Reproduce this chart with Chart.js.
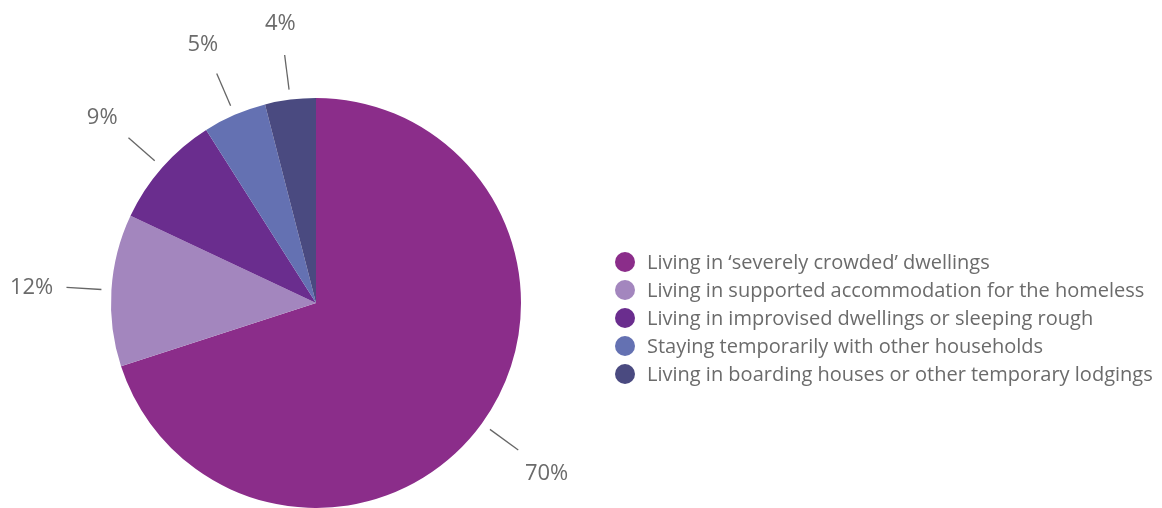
<!DOCTYPE html>
<html lang="en">
<head>
<meta charset="UTF-8">
<title>Homelessness pie</title>
<script src="https://cdn.jsdelivr.net/npm/chart.js@4.4.0"></script>
<style>
  html, body { margin: 0; padding: 0; background: #fff; }
  #wrap { width: 1162px; height: 508px; position: relative; }
</style>
</head>
<body>
<div id="wrap"><canvas id="chart"></canvas></div>
<script>
const categories = [
  "Living in \u2018severely crowded\u2019 dwellings",
  "Living in supported accommodation for the homeless",
  "Living in improvised dwellings or sleeping rough",
  "Staying temporarily with other households",
  "Living in boarding houses or other temporary lodgings"
];
const shares = [70, 12, 9, 5, 4];
const sliceColors = ["#8b2d8a", "#a386be", "#6a2d8e", "#6471b2", "#4a4a80"];

const FONT = "'Open Sans', sans-serif";

// leader lines + % labels outside each slice
const outsideLabels = {
  id: 'outsideLabels',
  afterDatasetsDraw(chart) {
    const ctx = chart.ctx;
    const meta = chart.getDatasetMeta(0);
    ctx.save();
    meta.data.forEach((arc, i) => {
      const mid = (arc.startAngle + arc.endAngle) / 2;
      const r = arc.outerRadius;
      const cx = Math.cos(mid), cy = Math.sin(mid);
      ctx.strokeStyle = '#666';
      ctx.lineWidth = 1.3;
      ctx.beginPath();
      ctx.moveTo(arc.x + cx * (r + 10), arc.y + cy * (r + 10));
      ctx.lineTo(arc.x + cx * (r + 45), arc.y + cy * (r + 45));
      ctx.stroke();
      ctx.fillStyle = '#6b6b6b';
      ctx.font = '22px ' + FONT;
      ctx.textAlign = 'center';
      ctx.textBaseline = 'middle';
      ctx.fillText(shares[i] + '%', arc.x + cx * (r + 80), arc.y + cy * (r + 80) + 3);
    });
    ctx.restore();
  }
};

// legend on the right, circles + text
const sideLegend = {
  id: 'sideLegend',
  afterDraw(chart) {
    const ctx = chart.ctx;
    const labels = chart.data.labels;
    const colors = chart.data.datasets[0].backgroundColor;
    ctx.save();
    ctx.font = '20px ' + FONT;
    ctx.textBaseline = 'middle';
    ctx.textAlign = 'left';
    labels.forEach((lab, i) => {
      const y = 262 + i * 28;
      ctx.fillStyle = colors[i];
      ctx.beginPath();
      ctx.arc(625, y, 10, 0, Math.PI * 2);
      ctx.fill();
      ctx.fillStyle = '#6b6b6b';
      ctx.fillText(lab, 647, y + 1);
    });
    ctx.restore();
  }
};

new Chart(document.getElementById('chart'), {
  type: 'pie',
  data: {
    labels: categories,
    datasets: [{
      data: shares,
      backgroundColor: sliceColors,
      borderWidth: 0
    }]
  },
  options: {
    responsive: true,
    maintainAspectRatio: false,
    animation: false,
    layout: { padding: { left: 111, right: 641, top: 98, bottom: 0 } },
    plugins: {
      legend: { display: false },
      tooltip: { enabled: false }
    }
  },
  plugins: [outsideLabels, sideLegend]
});
</script>
</body>
</html>
